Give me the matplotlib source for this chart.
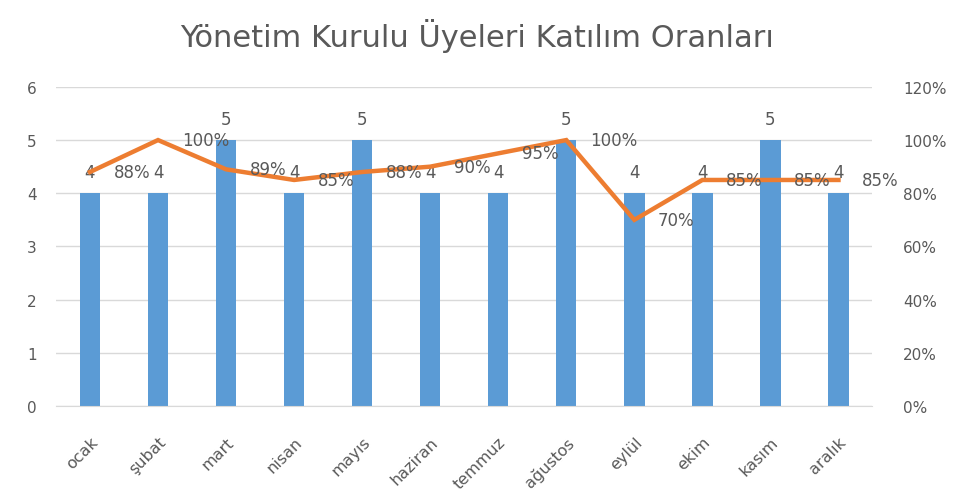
import matplotlib
matplotlib.use("Agg")
import matplotlib.pyplot as plt
from matplotlib.ticker import FuncFormatter

months = ["ocak", "şubat", "mart", "nisan", "mayıs", "haziran", "temmuz",
          "ağustos", "eylül", "ekim", "kasım", "aralık"]
members = [4, 4, 5, 4, 5, 4, 4, 5, 4, 4, 5, 4]
attendance = [88, 100, 89, 85, 88, 90, 95, 100, 70, 85, 85, 85]

TXT = "#595959"
plt.rcParams['font.family'] = ['DejaVu Sans']

fig = plt.figure(figsize=(9.55, 5.02), dpi=100)
ax = fig.add_axes([0.0586, 0.189, 0.855, 0.636])
ax2 = ax.twinx()

x = list(range(len(months)))
ax.bar(x, members, width=0.3, color="#5B9BD5", zorder=2)
ax.set_ylim(0, 6)
ax.set_yticks(range(0, 7))
ax.set_xlim(-0.5, len(months) - 0.5)
ax.grid(axis="y", color="#D9D9D9", linewidth=1, zorder=0)
ax.set_axisbelow(True)
for s in ["top", "right", "left"]:
    ax.spines[s].set_visible(False)
    ax2.spines[s].set_visible(False)
ax.spines["bottom"].set_color("#D9D9D9")
ax2.spines["bottom"].set_visible(False)
ax.tick_params(axis="both", length=0, colors=TXT, labelsize=11)
ax.tick_params(axis="y", pad=14)
ax.tick_params(axis="x", pad=20)
ax.set_xticks(x)
ax.set_xticklabels(months, rotation=45, ha="right", va="top",
                   rotation_mode="anchor", fontsize=11.5, color=TXT)

for xi, v in zip(x, members):
    ax.annotate(str(v), (xi, v), xytext=(0, 15), textcoords="offset points",
                ha="center", va="center", fontsize=12, color=TXT)

ax2.plot(x, [a / 100 for a in attendance], color="#ED7D31", linewidth=3.2,
         solid_joinstyle="miter", zorder=3)
ax2.set_ylim(0, 1.2)
ax2.set_yticks([i / 100 for i in range(0, 121, 20)])
ax2.yaxis.set_major_formatter(FuncFormatter(lambda v, p: f"{round(v*100)}%"))
ax2.tick_params(axis="y", length=0, colors=TXT, labelsize=11, pad=22)

for xi, a in zip(x, attendance):
    ax2.annotate(f"{a}%", (xi, a / 100), xytext=(17, 0), textcoords="offset points",
                 ha="left", va="center", fontsize=12, color=TXT)

fig.suptitle("Yönetim Kurulu Üyeleri Katılım Oranları", y=0.962, fontsize=22, color=TXT)

fig.savefig("out.png", dpi=100)
